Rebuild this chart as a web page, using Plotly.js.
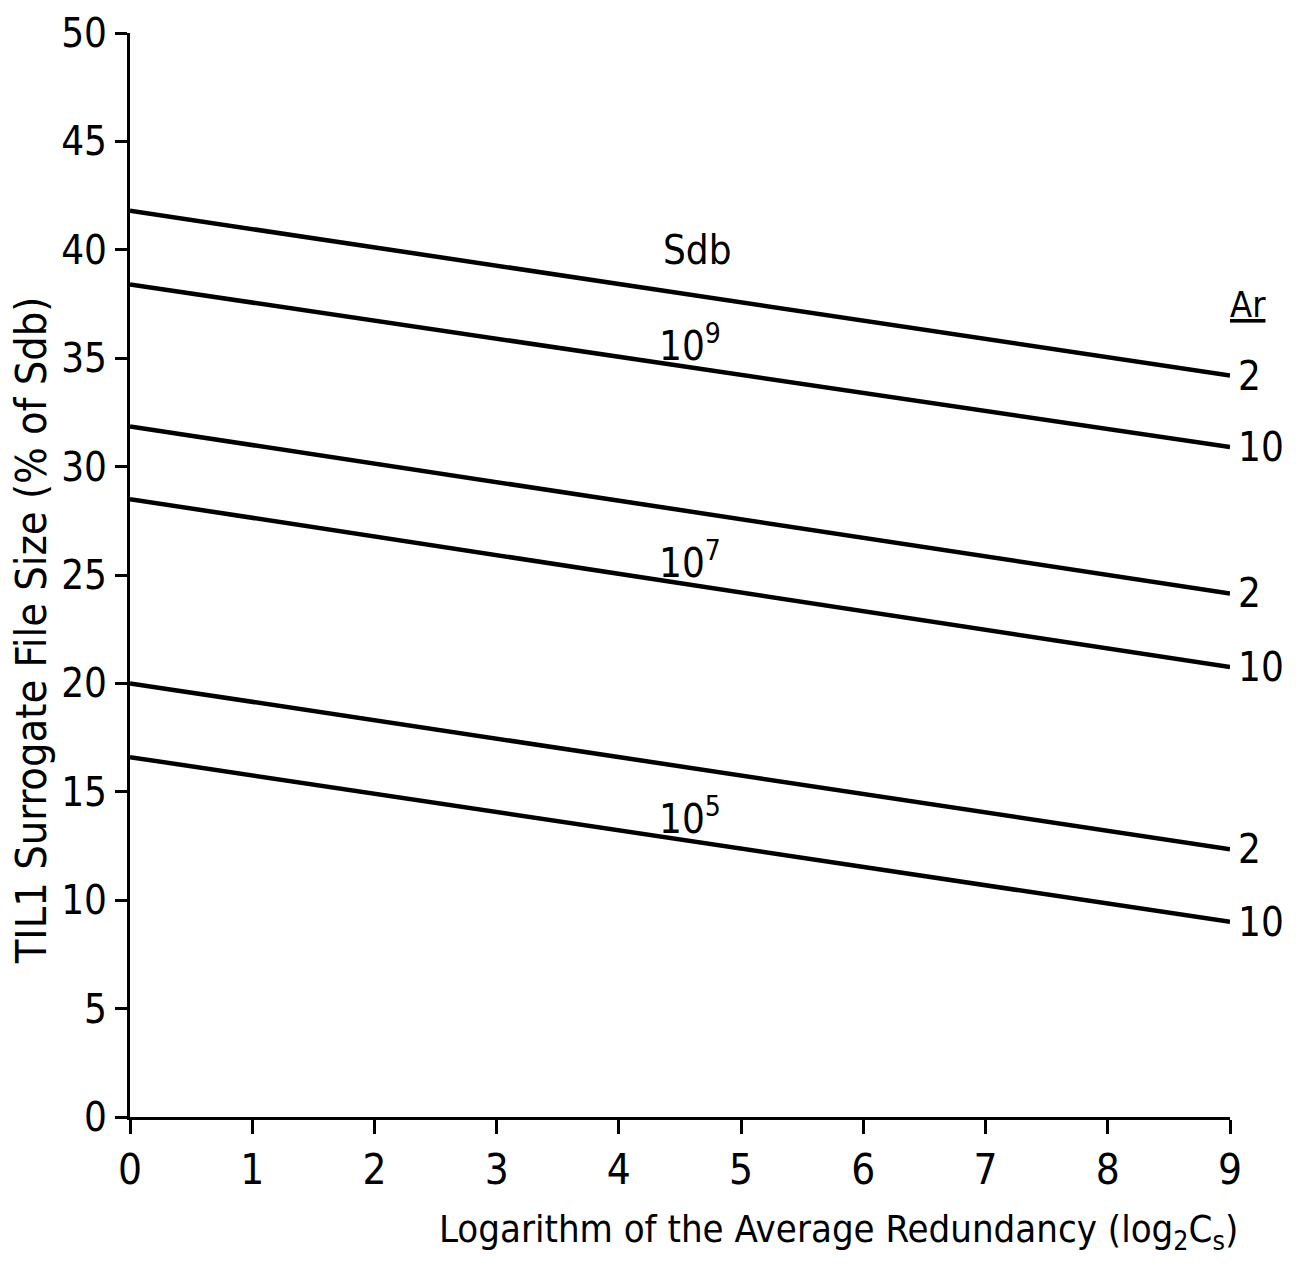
<!DOCTYPE html>
<html>
<head>
<meta charset="utf-8">
<script src="https://cdn.plot.ly/plotly-3.0.1.min.js"></script>
<style>body{margin:0;background:#fff;}#chart{width:1299px;height:1267px;}</style>
</head>
<body>
<div id="chart"></div>
<script>
// x: logarithm of the average redundancy (log2 Cs)
const xValues = [0, 9];
// Series: Sdb size and Ar value
const sdb1e9_ar2 = [41.8, 34.2];
const sdb1e9_ar10 = [38.4, 30.9];
const sdb1e7_ar2 = [31.85, 24.15];
const sdb1e7_ar10 = [28.5, 20.75];
const sdb1e5_ar2 = [20.0, 12.35];
const sdb1e5_ar10 = [16.6, 9.0];
const seriesList = [sdb1e9_ar2, sdb1e9_ar10, sdb1e7_ar2, sdb1e7_ar10, sdb1e5_ar2, sdb1e5_ar10];
const arLabels = ["2", "10", "2", "10", "2", "10"];
const sdbLabels = ["10<sup>9</sup>", "10<sup>7</sup>", "10<sup>5</sup>"];
const sdbLabelPos = [[4.58, 35.7], [4.58, 25.7], [4.58, 13.9]];
const xTicks = [0,1,2,3,4,5,6,7,8,9];
const yTicks = [0,5,10,15,20,25,30,35,40,45,50];
const xTitle = 'Logarithm of the Average Redundancy (log<sub>2</sub>C<sub>s</sub>)';
const yTitle = 'TIL1 Surrogate File Size (% of Sdb)';

const FONT = "'DejaVu Sans Condensed', 'Liberation Sans Narrow', 'Liberation Sans', sans-serif";

const traces = seriesList.map(s => ({
  x: xValues, y: s, type: 'scatter', mode: 'lines',
  line: {color: '#000', width: 4.5}, showlegend: false, hoverinfo: 'skip', cliponaxis: false
}));

const annotations = [];
seriesList.forEach((s, i) => {
  annotations.push({x: xValues[xValues.length-1], y: s[s.length-1], xref: 'x', yref: 'y',
    text: arLabels[i], showarrow: false, xanchor: 'left', xshift: 6,
    font: {family: FONT, size: 40, color: '#000'}});
});
sdbLabels.forEach((t, i) => {
  annotations.push({x: sdbLabelPos[i][0], y: sdbLabelPos[i][1], xref: 'x', yref: 'y',
    text: t, showarrow: false, font: {family: FONT, size: 40, color: '#000'}});
});
annotations.push({x: 4.64, y: 40.0, xref: 'x', yref: 'y', text: 'Sdb', showarrow: false,
  font: {family: FONT, size: 40, color: '#000'}});
annotations.push({x: 1.0345, y: 37.5, xref: 'paper', yref: 'y', text: '<u>Ar</u>', showarrow: false,
  font: {family: FONT, size: 36, color: '#000'}});
annotations.push({x: 0.644, y: -0.106, xref: 'paper', yref: 'paper', text: xTitle, showarrow: false,
  xanchor: 'center', yanchor: 'middle', font: {family: FONT, size: 38, color: '#000'}});
annotations.push({x: -0.09, y: 0.449, xref: 'paper', yref: 'paper', text: yTitle, showarrow: false,
  textangle: -90, xanchor: 'center', yanchor: 'middle', font: {family: FONT, size: 43, color: '#000'}});

const layout = {
  width: 1299, height: 1267,
  margin: {l: 130, r: 69, t: 33, b: 150},
  paper_bgcolor: '#fff', plot_bgcolor: '#fff',
  font: {family: FONT, color: '#000'},
  xaxis: {
    range: [0, 9], tickvals: xTicks, ticktext: xTicks.map(String),
    showgrid: false, zeroline: false, showline: true, linecolor: '#000', linewidth: 3,
    ticks: 'outside', ticklen: 14, tickwidth: 3, tickcolor: '#000',
    tickfont: {family: FONT, size: 42, color: '#000'},
    fixedrange: true
  },
  yaxis: {
    range: [0, 50], tickvals: yTicks, ticktext: yTicks.map(String),
    showgrid: false, zeroline: false, showline: true, linecolor: '#000', linewidth: 3,
    ticks: 'outside', ticklen: 12, tickwidth: 3, tickcolor: '#000',
    tickfont: {family: FONT, size: 40, color: '#000'},
    fixedrange: true
  },
  annotations: annotations,
  showlegend: false
};

Plotly.newPlot('chart', traces, layout, {displayModeBar: false, staticPlot: true});
</script>
</body>
</html>
